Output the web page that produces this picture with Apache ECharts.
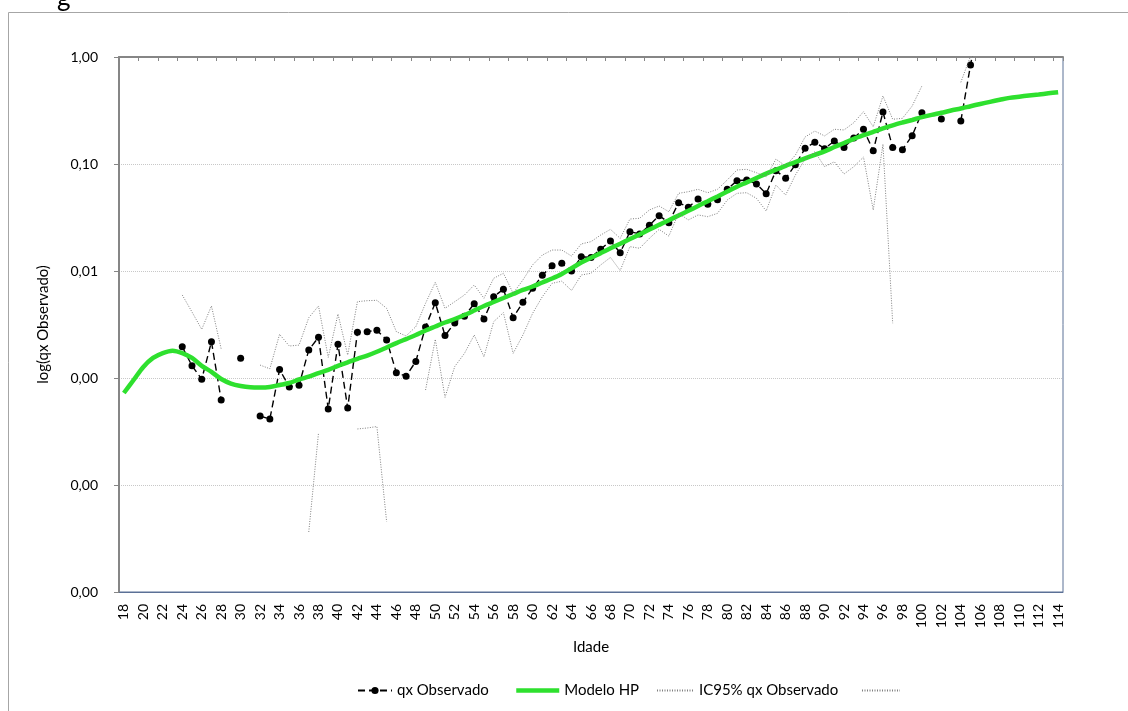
<!DOCTYPE html>
<html>
<head>
<meta charset="utf-8">
<script src="https://cdn.jsdelivr.net/npm/echarts@6/dist/echarts.min.js"></script>
<style>
html,body{margin:0;padding:0;background:#fff;}
#c{width:1128px;height:711px;}
</style>
</head>
<body>
<div id="c"></div>
<script>
const ages = [18,19,20,21,22,23,24,25,26,27,28,29,30,31,32,33,34,35,36,37,38,39,40,41,42,43,44,45,46,47,48,49,50,51,52,53,54,55,56,57,58,59,60,61,62,63,64,65,66,67,68,69,70,71,72,73,74,75,76,77,78,79,80,81,82,83,84,85,86,87,88,89,90,91,92,93,94,95,96,97,98,99,100,101,102,103,104,105,106,107,108,109,110,111,112,113,114];

const qxObservado = [
  null,null,null,null,null,null,0.00196,0.00130,0.000973,0.00218,
  0.000623,null,0.00153,null,0.000441,0.000414,0.00120,0.000824,0.000855,0.00183,
  0.00240,0.000513,0.00207,0.000524,0.00267,0.00271,0.00279,0.00227,0.00112,0.00104,
  0.00143,0.00300,0.00506,0.00249,0.00327,0.00377,0.00495,0.00356,0.00575,0.00675,
  0.00366,0.00510,0.00689,0.00912,0.0112,0.0118,0.0100,0.0136,0.0134,0.0160,
  0.0191,0.0148,0.0233,0.0222,0.0267,0.0329,0.0283,0.0435,0.0394,0.0471,
  0.0420,0.0464,0.0580,0.0698,0.0709,0.0650,0.0528,0.0866,0.0735,0.0985,
  0.140,0.160,0.139,0.164,0.143,0.175,0.211,0.133,0.306,0.143,
  0.136,0.184,0.302,null,0.263,null,0.252,0.842,2.5,null,
  null,null,null,null,null,null,null
];

const modeloHP = [
  0.000724,0.000958,0.00127,0.00154,0.00171,0.00180,0.00171,0.00154,0.00130,0.00114,
  0.000979,0.000888,0.000842,0.000818,0.000814,0.000824,0.000860,0.000898,0.000968,0.00103,
  0.00111,0.00119,0.00130,0.00140,0.00151,0.00162,0.00176,0.00193,0.00212,0.00231,
  0.00252,0.00278,0.00303,0.00330,0.00356,0.00388,0.00427,0.00471,0.00513,0.00559,
  0.00610,0.00665,0.00716,0.00781,0.00851,0.00938,0.0106,0.0120,0.0133,0.0147,
  0.0163,0.0180,0.0199,0.0220,0.0244,0.0270,0.0298,0.0330,0.0365,0.0405,
  0.0449,0.0498,0.0553,0.0614,0.0673,0.0740,0.0813,0.0885,0.0962,0.104,
  0.113,0.122,0.131,0.144,0.157,0.172,0.186,0.200,0.215,0.230,
  0.244,0.258,0.274,0.288,0.301,0.316,0.330,0.347,0.364,0.381,
  0.398,0.415,0.426,0.436,0.446,0.458,0.469
];

const ic95Superior = [
  null,null,null,null,null,null,0.00597,0.00414,0.00285,0.00471,
  0.00187,null,null,null,0.00132,0.00122,0.00256,0.00199,0.00203,0.00366,
  0.00471,0.00156,0.00396,0.00164,0.00517,0.00528,0.00532,0.00448,0.00271,0.00247,
  0.00302,0.00499,0.00784,0.00448,0.00517,0.00597,0.00740,0.00556,0.00855,0.00952,
  0.00619,0.00824,0.0114,0.0141,0.0157,0.0157,0.0138,0.0179,0.0188,0.0217,
  0.0245,0.0202,0.0306,0.0311,0.0372,0.0405,0.0358,0.0532,0.0551,0.0580,
  0.0539,0.0580,0.0709,0.0879,0.0892,0.0829,0.0761,0.111,0.0958,0.121,
  0.179,0.203,0.183,0.211,0.208,0.243,0.308,0.223,0.432,0.262,
  0.267,0.348,0.536,null,null,null,0.580,1.02,null,null,
  null,null,null,null,null,null,null
];

const ic95Inferior = [
  null,null,null,null,null,null,null,null,null,null,
  null,null,null,null,null,null,null,null,null,0.0000364,
  0.000306,null,null,null,0.000334,0.000341,0.000352,0.0000454,null,null,
  null,0.000772,0.00230,0.000660,0.00128,0.00170,0.00252,0.00158,0.00336,0.00408,
  0.00170,0.00252,0.00402,0.00575,0.00767,0.00803,0.00657,0.00918,0.00952,0.0114,
  0.0134,0.0101,0.0169,0.0163,0.0202,0.0245,0.0212,0.0346,0.0300,0.0334,
  0.0322,0.0346,0.0461,0.0532,0.0539,0.0478,0.0364,0.0636,0.0513,0.0789,
  0.111,0.130,0.0944,0.105,0.0806,0.0944,0.116,0.0372,0.153,0.00325,
  null,null,null,null,null,null,null,null,null,null,
  null,null,null,null,null,null,null
];

const FONT = 'Lato, "Liberation Sans", sans-serif';
const chart = echarts.init(document.getElementById('c'), null, {renderer:'canvas'});
const legendText = {fontFamily: FONT, fontSize: 15, color: '#000'};
const noDot = {color:'rgba(0,0,0,0)', borderWidth:0, opacity:0};

chart.setOption({
  animation: false,
  backgroundColor: '#fff',
  textStyle: {fontFamily: FONT},
  graphic: [
    {type:'rect', shape:{x:8.5, y:12.5, width:1300, height:900}, style:{fill:'none', stroke:'#a6a6a6', lineWidth:1}, silent:true},
    {type:'text', left:57, top:-15, style:{text:'g', fontFamily:FONT, fontSize:26, fill:'#000'}, silent:true}
  ],
  grid: {left:119, right:65, top:57, bottom:119, show:true, borderColor:'#5b7096', borderWidth:1, backgroundColor:'#fff'},
  legend: [
    {data:['qx Observado'], left:352, top:678, itemWidth:34, itemHeight:9, textStyle:legendText},
    {data:[{name:'Modelo HP', itemStyle:noDot, lineStyle:{width:4.5}}], left:509, top:678, itemWidth:43, itemHeight:9, textStyle:legendText},
    {data:[{name:'IC95% qx Observado', itemStyle:noDot}], left:651, top:678, itemWidth:37, itemHeight:9, textStyle:legendText},
    {data:[{name:' ', itemStyle:noDot}], left:856, top:678, itemWidth:38, itemHeight:9, textStyle:legendText}
  ],
  xAxis: [
    {
      type:'category', data:ages, position:'bottom', boundaryGap:true,
      name:'Idade', nameLocation:'middle', nameGap:48,
      nameTextStyle:{fontFamily:FONT, fontSize:15, color:'#000'},
      axisLine:{show:true, lineStyle:{color:'#5b7096', width:1}},
      axisTick:{show:false},
      axisLabel:{interval:1, rotate:90, fontFamily:FONT, fontSize:14, color:'#000', margin:12},
      splitLine:{show:false}
    },
    {
      type:'category', data:ages, position:'top', boundaryGap:true,
      axisLine:{show:true, lineStyle:{color:'#868686', width:2}},
      axisTick:{show:true, inside:true, interval:1, length:4, lineStyle:{color:'#868686', width:1}},
      axisLabel:{show:false},
      splitLine:{show:false}
    }
  ],
  yAxis: {
    type:'log', logBase:10, min:0.00001, max:1,
    name:'log(qx Observado)', nameLocation:'middle', nameGap:68,
    nameTextStyle:{fontFamily:FONT, fontSize:15, color:'#000'},
    axisLine:{show:true, lineStyle:{color:'#868686', width:2}},
    axisTick:{show:true, length:5, lineStyle:{color:'#868686'}},
    axisLabel:{fontFamily:FONT, fontSize:14, color:'#000', margin:21,
      formatter: v => Number(v).toFixed(2).replace('.', ',')},
    splitLine:{show:true, lineStyle:{color:'#c8c8c8', type:'dotted', width:1}}
  },
  series: [
    {
      name:'qx Observado', type:'line', data:qxObservado, xAxisIndex:0,
      symbol:'circle', symbolSize:7, showSymbol:true, showAllSymbol:true, connectNulls:false, clip:true,
      itemStyle:{color:'#000'},
      lineStyle:{color:'#000', width:1.4, type:[7,4]}, z:3
    },
    {
      name:'Modelo HP', type:'line', data:modeloHP, xAxisIndex:0,
      symbol:'none', smooth:0.3, clip:true,
      itemStyle:{color:'#2ee02e'},
      lineStyle:{color:'#2ee02e', width:4.5}, z:4
    },
    {
      name:'IC95% qx Observado', type:'line', data:ic95Superior, xAxisIndex:0,
      symbol:'none', connectNulls:false, clip:true,
      itemStyle:{color:'#7f7f7f'},
      lineStyle:{color:'#7f7f7f', width:1, type:[1,1.5]}, z:5
    },
    {
      name:' ', type:'line', data:ic95Inferior, xAxisIndex:0,
      symbol:'none', connectNulls:false, clip:true,
      itemStyle:{color:'#7f7f7f'},
      lineStyle:{color:'#7f7f7f', width:1, type:[1,1.5]}, z:5
    }
  ]
});
</script>
</body>
</html>
